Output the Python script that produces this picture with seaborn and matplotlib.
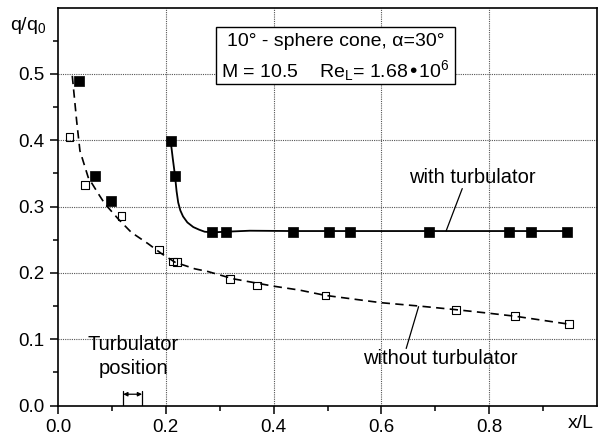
import numpy as np
import matplotlib
matplotlib.use("Agg")
import matplotlib.pyplot as plt
from matplotlib.patches import Rectangle
import seaborn as sns

# measured points, with turbulator (filled squares)
x_with = [0.039, 0.069, 0.098, 0.209, 0.217, 0.286, 0.312, 0.436, 0.502, 0.542, 0.688, 0.837, 0.878, 0.945]
y_with = [0.489, 0.346, 0.309, 0.399, 0.346, 0.261, 0.261, 0.262, 0.262, 0.262, 0.262, 0.262, 0.262, 0.262]

# measured points, without turbulator (open squares)
x_without = [0.021, 0.050, 0.118, 0.187, 0.213, 0.221, 0.319, 0.369, 0.496, 0.738, 0.848, 0.948]
y_without = [0.405, 0.332, 0.286, 0.235, 0.217, 0.216, 0.191, 0.181, 0.166, 0.144, 0.135, 0.123]

# fitted curves
x_fit_with = [0.209, 0.213, 0.217, 0.220, 0.223, 0.227, 0.232, 0.240, 0.251, 0.262, 0.272,
              0.286, 0.312, 0.356, 0.436, 0.945]
y_fit_with = [0.399, 0.372, 0.347, 0.323, 0.306, 0.294, 0.285, 0.276, 0.269, 0.265, 0.262,
              0.261, 0.262, 0.2635, 0.263, 0.263]

x_fit_without = [0.0265, 0.0346, 0.0407, 0.056, 0.075, 0.087, 0.112, 0.136, 0.167, 0.192, 0.217,
                 0.254, 0.278, 0.325, 0.399, 0.448, 0.496, 0.599, 0.669, 0.738, 0.794, 0.848, 0.948]
y_fit_without = [0.497, 0.429, 0.384, 0.344, 0.319, 0.304, 0.281, 0.261, 0.244, 0.229, 0.216,
                 0.206, 0.202, 0.191, 0.180, 0.174, 0.166, 0.155, 0.150, 0.1445, 0.1396, 0.1346, 0.1226]

turb_pos = [0.121, 0.156]

sns.set_theme(style="ticks")
plt.rcParams['font.family'] = ['Liberation Sans', 'DejaVu Sans']
plt.rcParams['mathtext.default'] = 'regular'
plt.rcParams['text.color'] = 'black'
plt.rcParams['xtick.color'] = 'black'
plt.rcParams['ytick.color'] = 'black'

fig = plt.figure(figsize=(5.98, 4.38), dpi=100)
ax = fig.add_axes([58 / 598, 32.5 / 438, 539 / 598, 398 / 438])

# curves
sns.lineplot(x=x_fit_without, y=y_fit_without, ax=ax, sort=False, estimator=None,
             color='black', lw=1.2, zorder=2).lines[-1].set_dashes((5, 3.2))
sns.lineplot(x=x_fit_with, y=y_fit_with, ax=ax, sort=False, estimator=None,
             color='black', lw=1.3, zorder=2)

# points
sns.scatterplot(x=x_without, y=y_without, ax=ax, marker='s', s=30,
                facecolor='none', edgecolor='black', linewidth=0.8, zorder=3)
sns.scatterplot(x=x_with, y=y_with, ax=ax, marker='s', s=55,
                color='black', edgecolor='black', linewidth=0.5, zorder=4)

ax.set_xlim(0, 1.0)
ax.set_ylim(0, 0.6)
ax.set_xticks([0, 0.2, 0.4, 0.6, 0.8])
ax.set_xticks([0.1, 0.3, 0.5, 0.7, 0.9], minor=True)
ax.set_yticks([0, 0.1, 0.2, 0.3, 0.4, 0.5])
ax.set_yticks(np.arange(0.05, 0.6, 0.1), minor=True)
ax.set_xticklabels(['0.0', '0.2', '0.4', '0.6', '0.8'])
ax.set_yticklabels(['0.0', '0.1', '0.2', '0.3', '0.4', '0.5'])
ax.tick_params(which='major', direction='out', length=6, width=1.1, labelsize=13.5,
               colors='black', labelcolor='black', pad=4)
ax.tick_params(which='minor', direction='out', length=3.5, width=1.1, colors='black')
for sp in ax.spines.values():
    sp.set_linewidth(1.2)
    sp.set_color('black')

# grid at major ticks
for xv in [0.2, 0.4, 0.6, 0.8]:
    ax.axvline(xv, color='#555555', lw=0.8, ls=(0, (1, 1)), zorder=1)
for yv in [0.1, 0.2, 0.3, 0.4, 0.5]:
    ax.axhline(yv, color='#555555', lw=0.8, ls=(0, (1, 1)), zorder=1)

# axis labels at corners
ax.text(-0.022, 0.955, 'q/q$_0$', transform=ax.transAxes, ha='right', va='center', fontsize=14)
ax.text(0.97, -0.045, 'x/L', transform=ax.transAxes, ha='center', va='center', fontsize=14)

# info box
box = Rectangle((0.293, 0.807), 0.443, 0.143, transform=ax.transAxes,
                facecolor='white', edgecolor='black', lw=1.0, zorder=5)
ax.add_patch(box)
ax.text(0.5145, 0.914, '10° - sphere cone, α=30°', transform=ax.transAxes,
        ha='center', va='center', fontsize=14, zorder=6)
ax.text(0.5145, 0.842, 'M = 10.5    Re$_L$= 1.68•10$^6$', transform=ax.transAxes,
        ha='center', va='center', fontsize=14, zorder=6)

# labels with leader lines
ax.text(0.768, 0.344, 'with turbulator', ha='center', va='center', fontsize=14.5)
ax.plot([0.75, 0.72], [0.327, 0.263], color='black', lw=0.9)
ax.text(0.71, 0.071, 'without turbulator', ha='center', va='center', fontsize=14.5)
ax.plot([0.669, 0.646], [0.149, 0.086], color='black', lw=0.9)

ax.text(0.140, 0.0925, 'Turbulator', ha='center', va='center', fontsize=14.5)
ax.text(0.140, 0.056, 'position', ha='center', va='center', fontsize=14.5)
for xp in turb_pos:
    ax.plot([xp, xp], [0, 0.022], color='black', lw=0.9)
ax.annotate('', xy=(turb_pos[0], 0.017), xytext=(turb_pos[1], 0.017),
            arrowprops=dict(arrowstyle='<|-|>', color='black', lw=0.9,
                            mutation_scale=6, shrinkA=0, shrinkB=0))

fig.savefig('out.png', dpi=100)
